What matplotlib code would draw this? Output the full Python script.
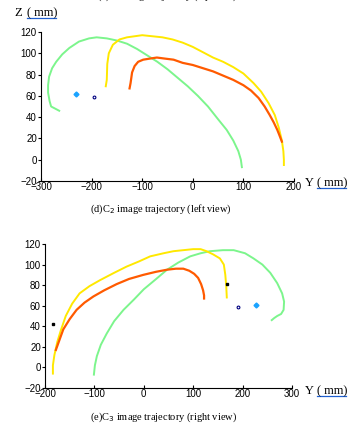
import numpy as np
import matplotlib.pyplot as plt
from matplotlib.lines import Line2D

# (d) left view trajectories, Y (mm) / Z (mm)
left_green_y = [-264, -272, -280, -283, -286, -286, -284, -278, -270, -258, -244, -225, -205, -190, -170, -150, -130, -110, -90, -70, -50, -30, -10, 10, 30, 50, 67, 80, 90, 95, 97]
left_green_z = [46, 48, 50, 55, 63, 70, 78, 86, 92, 99, 105, 111, 114, 115, 114, 112, 109, 104, 98, 92, 85, 77, 69, 60, 50, 38, 28, 18, 8, 0, -7]
left_yellow_y = [-172, -170, -169, -166, -158, -145, -130, -115, -100, -80, -60, -40, -20, 0, 20, 40, 60, 80, 100, 120, 135, 150, 162, 170, 176, 179, 180, 180]
left_yellow_z = [69, 75, 90, 100, 108, 113, 115, 116, 117, 116, 115, 113, 110, 106, 101, 96, 92, 87, 81, 72, 64, 53, 42, 30, 18, 8, 0, -5]
left_orange_y = [-125, -123, -120, -115, -108, -98, -85, -71, -55, -38, -20, 0, 20, 40, 60, 80, 100, 115, 130, 142, 152, 160, 167, 172, 176]
left_orange_z = [67, 72, 82, 88, 92, 94, 95, 96, 95, 94, 91, 89, 86, 83, 79, 75, 70, 65, 58, 50, 42, 35, 28, 22, 17]
left_pts_y = [-231, -195]
left_pts_z = [61.5, 59]

# (e) right view trajectories
right_yellow_y = [-184, -184, -181, -175, -168, -158, -145, -130, -110, -88, -60, -35, -10, 13, 40, 60, 80, 100, 115, 127, 140, 154, 162, 165, 167, 168]
right_yellow_z = [-6, 2, 12, 25, 36, 50, 62, 72, 79, 85, 92, 98, 103, 108, 111, 113, 114, 115, 115, 113, 110, 106, 100, 90, 78, 68]
right_orange_y = [-178, -172, -163, -150, -136, -120, -102, -80, -55, -30, -1, 25, 47, 65, 80, 92, 102, 110, 116, 120, 122, 122]
right_orange_z = [17, 25, 37, 47, 56, 63, 69, 75, 81, 86, 90, 93, 95, 96, 96, 94, 91, 87, 81, 75, 70, 67]
right_green_y = [-101, -99, -95, -87, -75, -60, -41, -20, 0, 25, 47, 70, 94, 115, 134, 160, 182, 205, 222, 240, 256, 270, 280, 284, 283, 278, 270, 264, 259]
right_green_z = [-7, 2, 11, 22, 33, 45, 56, 66, 76, 86, 95, 102, 108, 111, 113, 114, 114, 111, 106, 100, 92, 82, 72, 64, 56, 52, 50, 48, 46]
right_black_y = [-184.5, 168]
right_black_z = [42, 81.5]
right_pts_y = [190.5, 227.7]
right_pts_z = [58.8, 60.7]

green = '#7CF58C'
yellow = '#FFE800'
orange = '#FF5A00'
cyan = '#1AA3FF'
navy = '#000080'

W, H = 354, 423
fig = plt.figure(figsize=(W / 100, H / 100), dpi=100)


def fx(px):
    return px / W


def fy(py):
    return 1 - py / H


def style_axes(ax):
    for s in ['top', 'right']:
        ax.spines[s].set_visible(False)
    for s in ['left', 'bottom']:
        ax.spines[s].set_linewidth(0.8)
    ax.tick_params(axis='y', direction='out', length=2, width=0.8, labelsize=7, pad=1)
    ax.tick_params(axis='x', direction='in', length=2, width=0.8, labelsize=7, pad=1)
    for lab in ax.get_xticklabels() + ax.get_yticklabels():
        lab.set_fontfamily('Liberation Sans')


def axis_label(x, y, letter):
    fig.text(fx(x), fy(y), letter + ' ', fontsize=9, family='Liberation Serif', va='center', ha='left')
    fig.text(fx(x + 12), fy(y), '( mm)', fontsize=9, family='Liberation Serif', va='center', ha='left')
    fig.add_artist(Line2D([fx(x + 12), fx(x + 41)], [fy(y + 5), fy(y + 5)],
                          transform=fig.transFigure, color='#2060D0', lw=0.9))


# top panel (left view)
ax1 = fig.add_axes([fx(41), fy(181), fx(294) - fx(41), fy(32) - fy(181)])
ax1.plot(left_green_y, left_green_z, color=green, lw=1.4)
ax1.plot(left_yellow_y, left_yellow_z, color=yellow, lw=1.4)
ax1.plot(left_orange_y, left_orange_z, color=orange, lw=1.6)
ax1.plot(left_pts_y[0], left_pts_z[0], 'D', color=cyan, ms=2.5)
ax1.plot(left_pts_y[1], left_pts_z[1], 'o', color=navy, ms=2, mfc='none', mew=0.8)
ax1.set_xlim(-300, 200)
ax1.set_ylim(-20, 120)
ax1.set_xticks(np.arange(-300, 201, 100))
ax1.set_yticks(np.arange(-20, 121, 20))
style_axes(ax1)

# bottom panel (right view)
ax2 = fig.add_axes([fx(45), fy(388), fx(292) - fx(45), fy(244) - fy(388)])
ax2.plot(right_green_y, right_green_z, color=green, lw=1.4)
ax2.plot(right_yellow_y, right_yellow_z, color=yellow, lw=1.4)
ax2.plot(right_orange_y, right_orange_z, color=orange, lw=1.6)
ax2.plot(right_black_y, right_black_z, 's', color='black', ms=2, ls='none')
ax2.plot(right_pts_y[0], right_pts_z[0], 'o', color=navy, ms=2, mfc='none', mew=0.8)
ax2.plot(right_pts_y[1], right_pts_z[1], 'D', color=cyan, ms=2.5)
ax2.set_xlim(-200, 300)
ax2.set_ylim(-20, 120)
ax2.set_xticks(np.arange(-200, 301, 100))
ax2.set_yticks(np.arange(-20, 121, 20))
style_axes(ax2)

# labels and captions
axis_label(15, 13, 'Z')
axis_label(305, 183, 'Y')
axis_label(305, 391, 'Y')
fig.text(fx(167), fy(-1.0), '(c)C$_1$ image trajectory (top view)', fontsize=7.5,
         family='Liberation Serif', ha='center', va='baseline')
fig.text(fx(161), fy(209), '(d)C$_2$ image trajectory (left view)', fontsize=7.5,
         family='Liberation Serif', ha='center', va='center')
fig.text(fx(164), fy(417), '(e)C$_3$ image trajectory (right view)', fontsize=7.5,
         family='Liberation Serif', ha='center', va='center')

fig.savefig('out.png', dpi=100)
